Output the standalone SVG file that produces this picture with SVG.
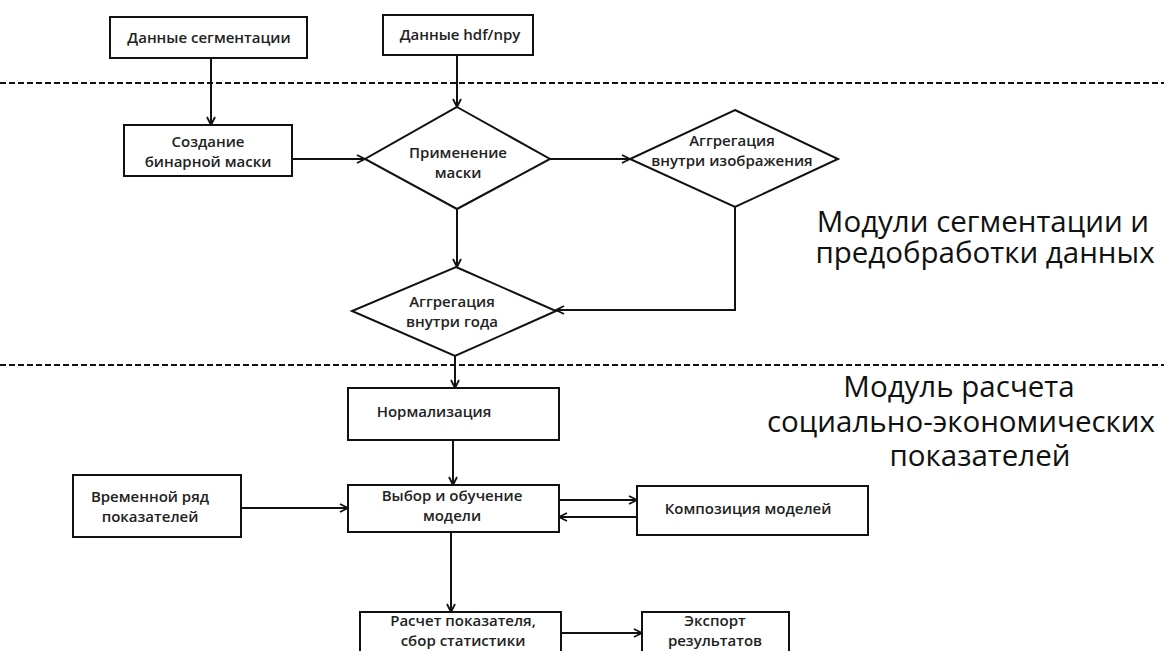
<svg xmlns="http://www.w3.org/2000/svg" width="1164" height="651" viewBox="0 0 1164 651">
<defs>
<marker id="arr" viewBox="0 0 10 10" refX="9" refY="5" markerWidth="10" markerHeight="10" markerUnits="userSpaceOnUse" orient="auto">
<path d="M1,1 L9,5 L1,9" fill="none" stroke="#111" stroke-width="1.8"/>
</marker>
<style>
.box{fill:#fff;stroke:#111;stroke-width:2}
.t{font-family:"Open Sans","Noto Sans",sans-serif;font-size:15px;font-weight:600;fill:#222;text-anchor:middle}
.big{font-family:"Open Sans","Noto Sans",sans-serif;font-size:29.5px;fill:#111;text-anchor:middle}
.c{fill:none;stroke:#111;stroke-width:2;marker-end:url(#arr)}
.dash{stroke:#111;stroke-width:2;stroke-dasharray:6 3;fill:none}
</style>
</defs>
<rect width="1164" height="651" fill="#fff"/>
<g id="separators">
<line class="dash" x1="0" y1="83" x2="1164" y2="83"/>
<line class="dash" x1="0" y1="365" x2="1164" y2="365"/>
</g>
<g id="connectors">
<path class="c" d="M211,58 V125"/>
<path class="c" d="M457,55 V107"/>
<path class="c" d="M292,159 H365"/>
<path class="c" d="M550,159 H630"/>
<path class="c" d="M457,209 V267"/>
<path class="c" d="M735,207 V310 H556"/>
<path class="c" d="M455,356 V388"/>
<path class="c" d="M453,440 V485"/>
<path class="c" d="M241,508 H348"/>
<path class="c" d="M559,500 H637"/>
<path class="c" d="M637,517 H559"/>
<path class="c" d="M451,532 V612"/>
<path class="c" d="M561,633 H642"/>
</g>
<g id="n_seg"><rect class="box" x="110" y="17" width="197" height="41"/><text class="t" x="209" y="43">Данные сегментации</text></g>
<g id="n_hdf"><rect class="box" x="383" y="15" width="150" height="40"/><text class="t" x="460" y="40">Данные hdf/npy</text></g>
<g id="n_mask"><rect class="box" x="124" y="125" width="168" height="51"/><text class="t" x="208" y="147">Создание</text><text class="t" x="208" y="167">бинарной маски</text></g>
<g id="d_apply"><polygon class="box" points="457,107 550,159 457,209 365,159"/><text class="t" x="458" y="158">Применение</text><text class="t" x="458" y="178">маски</text></g>
<g id="d_aggimg"><polygon class="box" points="735,110 838,159 735,207 630,159"/><text class="t" x="732" y="146">Аггрегация</text><text class="t" x="732" y="166">внутри изображения</text></g>
<g id="d_aggyear"><polygon class="box" points="456,267 556,311 455,356 352,311"/><text class="t" x="452" y="307">Аггрегация</text><text class="t" x="452" y="327">внутри года</text></g>
<g id="n_norm"><rect class="box" x="348" y="388" width="211" height="52"/><text class="t" x="434" y="417">Нормализация</text></g>
<g id="n_choose"><rect class="box" x="348" y="485" width="211" height="47"/><text class="t" x="452" y="501">Выбор и обучение</text><text class="t" x="452" y="521">модели</text></g>
<g id="n_ts"><rect class="box" x="73" y="475" width="168" height="62"/><text class="t" x="150" y="502">Временной ряд</text><text class="t" x="150" y="522">показателей</text></g>
<g id="n_comp"><rect class="box" x="637" y="486" width="231" height="49"/><text class="t" x="748" y="514">Композиция моделей</text></g>
<g id="n_calc"><rect class="box" x="360" y="612" width="201" height="60"/><text class="t" x="463" y="626">Расчет показателя,</text><text class="t" x="463" y="646">сбор статистики</text></g>
<g id="n_export"><rect class="box" x="642" y="612" width="147" height="60"/><text class="t" x="715" y="626">Экспорт</text><text class="t" x="715" y="646">результатов</text></g>
<g id="labels">
<text class="big" x="983" y="232">Модули сегментации и</text>
<text class="big" x="985" y="263">предобработки данных</text>
<text class="big" x="959" y="397">Модуль расчета</text>
<text class="big" x="961" y="432">социально-экономических</text>
<text class="big" x="980" y="466">показателей</text>
</g>
</svg>
